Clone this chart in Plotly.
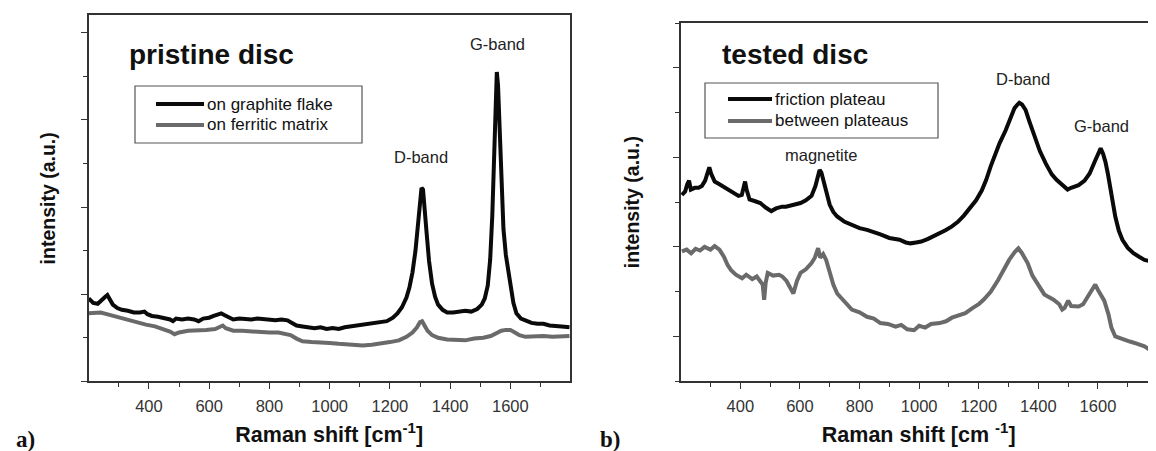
import plotly.graph_objects as go

# ---------------- data: panel a (pristine disc) ----------------
a_graphite_x = [200, 215, 230, 245, 255, 262, 270, 280, 295, 310, 330, 350, 370, 385, 395, 410, 430, 450, 470, 480,
                490, 510, 530, 550, 565, 580, 600, 615, 630, 640, 650, 665, 680, 700, 720, 740, 760, 780, 800, 820,
                840, 860, 875, 890, 910, 930, 950, 970, 990, 1010, 1030, 1050, 1070, 1090, 1110, 1130, 1150, 1170,
                1190, 1210, 1225, 1240, 1255, 1265, 1275, 1285, 1293, 1300, 1305, 1310, 1316, 1322, 1330, 1340, 1350,
                1360, 1375, 1390, 1410, 1430, 1450, 1470, 1490, 1505, 1515, 1525, 1533, 1540, 1546, 1551, 1555, 1559,
                1564, 1570, 1577, 1585, 1593, 1600, 1610, 1620, 1635, 1650, 1670, 1690, 1710, 1730, 1750, 1770, 1797]
a_graphite_y = [0.95, 0.90, 0.89, 0.93, 0.97, 0.99, 0.95, 0.88, 0.84, 0.82, 0.81, 0.79, 0.79, 0.80, 0.77, 0.75, 0.74,
                0.73, 0.71, 0.69, 0.72, 0.71, 0.72, 0.71, 0.69, 0.72, 0.73, 0.75, 0.77, 0.78, 0.76, 0.73, 0.71, 0.72,
                0.71, 0.71, 0.72, 0.71, 0.71, 0.70, 0.71, 0.70, 0.67, 0.64, 0.63, 0.62, 0.61, 0.62, 0.60, 0.61, 0.60,
                0.62, 0.63, 0.63, 0.64, 0.65, 0.66, 0.67, 0.69, 0.73, 0.78, 0.85, 0.96, 1.08, 1.25, 1.50, 1.80, 2.08,
                2.22, 2.20, 2.00, 1.70, 1.38, 1.12, 0.97, 0.88, 0.82, 0.79, 0.79, 0.80, 0.81, 0.80, 0.83, 0.88, 0.95,
                1.10, 1.40, 1.90, 2.60, 3.25, 3.55, 3.40, 2.85, 2.25, 1.75, 1.45, 1.28, 1.12, 0.90, 0.78, 0.72, 0.70,
                0.67, 0.66, 0.66, 0.64, 0.63, 0.63, 0.62]

a_ferritic_x = [200, 220, 240, 260, 280, 300, 330, 360, 390, 420, 450, 470, 485, 500, 530, 560, 590, 620, 635, 645,
                655, 680, 710, 740, 770, 800, 830, 850, 870, 890, 910, 940, 970, 1000, 1030, 1060, 1090, 1110, 1140,
                1170, 1200, 1230, 1255, 1275, 1290, 1300, 1307, 1315, 1325, 1340, 1360, 1390, 1420, 1450, 1480, 1510,
                1535, 1555, 1570, 1585, 1600, 1615, 1630, 1650, 1680, 1710, 1740, 1770, 1797]
a_ferritic_y = [0.78, 0.79, 0.79, 0.77, 0.75, 0.73, 0.71, 0.68, 0.65, 0.63, 0.60, 0.57, 0.54, 0.56, 0.58, 0.58, 0.59,
                0.60, 0.63, 0.64, 0.61, 0.58, 0.58, 0.57, 0.57, 0.56, 0.56, 0.55, 0.53, 0.49, 0.46, 0.45, 0.45, 0.44,
                0.43, 0.42, 0.41, 0.41, 0.42, 0.43, 0.45, 0.47, 0.51, 0.56, 0.62, 0.68, 0.69, 0.64, 0.58, 0.53, 0.50,
                0.48, 0.48, 0.47, 0.49, 0.50, 0.52, 0.56, 0.58, 0.59, 0.59, 0.56, 0.53, 0.51, 0.52, 0.52, 0.51, 0.52,
                0.52]

# ---------------- data: panel b (tested disc) ----------------
b_plateau_x = [204, 215, 222, 228, 234, 247, 260, 271, 282, 290, 296, 302, 314, 330, 345, 357, 375, 394, 405, 412,
               416, 421, 431, 450, 467, 485, 504, 520, 540, 553, 575, 602, 620, 639, 652, 660, 666, 672, 680, 688,
               700, 712, 725, 750, 774, 800, 825, 848, 870, 900, 934, 955, 971, 990, 1007, 1030, 1050, 1069, 1090,
               1110, 1130, 1150, 1170, 1191, 1210, 1225, 1240, 1255, 1270, 1290, 1305, 1320, 1330, 1336, 1345, 1357,
               1370, 1388, 1405, 1425, 1445, 1461, 1480, 1498, 1510, 1535, 1555, 1572, 1590, 1603, 1609, 1617, 1625,
               1633, 1645, 1658, 1670, 1682, 1700, 1719, 1738, 1756, 1775, 1795]
b_plateau_y = [1.58, 1.62, 1.70, 1.74, 1.64, 1.66, 1.66, 1.68, 1.74, 1.84, 1.89, 1.82, 1.73, 1.70, 1.67, 1.65, 1.62,
               1.57, 1.58, 1.68, 1.73, 1.64, 1.53, 1.51, 1.49, 1.44, 1.40, 1.43, 1.45, 1.45, 1.47, 1.49, 1.52, 1.57,
               1.68, 1.80, 1.86, 1.83, 1.73, 1.61, 1.47, 1.39, 1.34, 1.28, 1.245, 1.21, 1.19, 1.17, 1.14, 1.10, 1.08,
               1.05, 1.04, 1.05, 1.06, 1.09, 1.12, 1.15, 1.19, 1.23, 1.28, 1.35, 1.43, 1.52, 1.63, 1.75, 1.90, 2.04,
               2.16, 2.30, 2.43, 2.55, 2.59, 2.61, 2.59, 2.53, 2.40, 2.23, 2.07, 1.93, 1.81, 1.75, 1.69, 1.64, 1.66,
               1.69, 1.74, 1.82, 1.96, 2.07, 2.10, 2.04, 1.95, 1.82, 1.58, 1.34, 1.18, 1.08, 0.99, 0.93, 0.89, 0.855,
               0.84, 0.82]

b_between_x = [204, 220, 235, 250, 265, 280, 300, 314, 330, 345, 357, 369, 385, 406, 420, 440, 455, 468, 475, 480,
               485, 492, 510, 530, 541, 555, 570, 578, 590, 602, 620, 639, 650, 661, 668, 678, 688, 700, 712, 725,
               750, 774, 800, 825, 848, 870, 895, 921, 940, 960, 983, 1000, 1020, 1040, 1069, 1090, 1110, 1135, 1155,
               1180, 1200, 1216, 1240, 1265, 1285, 1302, 1320, 1333, 1345, 1364, 1380, 1401, 1420, 1435, 1451, 1470,
               1480, 1488, 1500, 1510, 1535, 1550, 1560, 1575, 1585, 1591, 1600, 1612, 1621, 1635, 1645, 1658, 1680,
               1707, 1730, 1756, 1775, 1795]
b_between_y = [0.95, 0.97, 0.93, 0.98, 0.96, 1.00, 0.97, 1.01, 0.97, 0.89, 0.80, 0.74, 0.69, 0.65, 0.69, 0.64, 0.67,
               0.62, 0.58, 0.41, 0.60, 0.71, 0.68, 0.69, 0.67, 0.62, 0.53, 0.48, 0.62, 0.71, 0.75, 0.82, 0.88, 0.985,
               0.88, 0.92, 0.855, 0.72, 0.58, 0.48, 0.38, 0.30, 0.27, 0.22, 0.20, 0.15, 0.14, 0.11, 0.13, 0.08, 0.07,
               0.12, 0.10, 0.14, 0.15, 0.17, 0.21, 0.24, 0.26, 0.32, 0.36, 0.41, 0.50, 0.63, 0.75, 0.855, 0.94, 0.985,
               0.93, 0.82, 0.68, 0.56, 0.47, 0.44, 0.41, 0.36, 0.30, 0.32, 0.40, 0.34, 0.335, 0.36, 0.41, 0.48, 0.55,
               0.58, 0.52, 0.44, 0.40, 0.25, 0.10, 0.00, -0.03, -0.056, -0.08, -0.11, -0.15, -0.20]

x_tick_vals = [400, 600, 800, 1000, 1200, 1400, 1600]
x_minor_vals = [300, 500, 700, 900, 1100, 1300, 1500, 1700]

a_legend_names = ["on graphite flake", "on ferritic matrix"]
b_legend_names = ["friction plateau", "between plateaus"]

FONT = "Liberation Sans, Arial, sans-serif"
SERIF = "Liberation Serif, Times New Roman, serif"
BLACK = "#0a0a0a"
GRAY = "#6a6a6a"
AXIS = "#333333"
LW = 4

fig = go.Figure()
fig.add_trace(go.Scatter(x=a_graphite_x, y=a_graphite_y, mode="lines", name=a_legend_names[0],
                         line=dict(color=BLACK, width=LW), xaxis="x", yaxis="y", showlegend=False))
fig.add_trace(go.Scatter(x=a_ferritic_x, y=a_ferritic_y, mode="lines", name=a_legend_names[1],
                         line=dict(color=GRAY, width=LW), xaxis="x", yaxis="y", showlegend=False))
fig.add_trace(go.Scatter(x=b_plateau_x, y=b_plateau_y, mode="lines", name=b_legend_names[0],
                         line=dict(color=BLACK, width=LW), xaxis="x2", yaxis="y2", showlegend=False))
fig.add_trace(go.Scatter(x=b_between_x, y=b_between_y, mode="lines", name=b_legend_names[1],
                         line=dict(color=GRAY, width=LW), xaxis="x2", yaxis="y2", showlegend=False))

W, H = 1156, 451


def px(x):
    return x / W


def py(y):
    return 1 - y / H


xcommon = dict(range=[200, 1797], tickmode="array", tickvals=x_tick_vals, ticks="outside", ticklen=6,
               tickwidth=1.3, tickcolor=AXIS, showline=True, linecolor=AXIS, linewidth=1.5, mirror=True,
               showgrid=False, zeroline=False, ticklabelstandoff=3,
               tickfont=dict(family=FONT, size=16.5, color="#333"),
               minor=dict(tickmode="array", tickvals=x_minor_vals, ticks="outside", ticklen=4, tickwidth=1.3,
                          tickcolor=AXIS, showgrid=False))

fig.update_layout(
    width=W, height=H, margin=dict(l=0, r=0, t=0, b=0),
    paper_bgcolor="white", plot_bgcolor="white",
    font=dict(family=FONT, color="#111"),
    showlegend=False,
    xaxis=dict(domain=[px(80.7), px(561.7)], anchor="y",
               title=dict(text="<b>Raman shift [cm<sup>-1</sup>]</b>", font=dict(size=21.5, family=FONT, color="#111"),
                          standoff=13),
               **xcommon),
    yaxis=dict(domain=[py(373.3), py(7.3)], anchor="x", range=[0, 4.2], tickmode="linear", tick0=0, dtick=1,
               showticklabels=False, ticks="outside", ticklen=6, tickwidth=1.3, tickcolor=AXIS,
               showline=True, linecolor=AXIS, linewidth=1.5, mirror=True, showgrid=False, zeroline=False,
               minor=dict(tickmode="linear", tick0=0.5, dtick=1, ticks="outside", ticklen=4, tickwidth=1.3,
                          tickcolor=AXIS, showgrid=False),
               title=dict(text="<b>intensity (a.u.)</b>", font=dict(size=19.5, family=FONT, color="#111"),
                          standoff=20)),
    xaxis2=dict(domain=[px(672.7), px(1148.7)], anchor="y2",
                title=dict(text="<b>Raman shift [cm <sup>-1</sup>]</b>",
                           font=dict(size=21.5, family=FONT, color="#111"), standoff=13),
                **xcommon),
    yaxis2=dict(domain=[py(373.3), py(15)], anchor="x2", range=[-0.5, 3.5], tickmode="linear", tick0=0, dtick=1,
                showticklabels=False, ticks="outside", ticklen=6, tickwidth=1.3, tickcolor=AXIS,
                showline=True, linecolor=AXIS, linewidth=1.5, mirror=True, showgrid=False, zeroline=False,
                minor=dict(tickmode="linear", tick0=0.5, dtick=1, ticks="outside", ticklen=4, tickwidth=1.3,
                           tickcolor=AXIS, showgrid=False),
                title=dict(text="<b>intensity (a.u.)</b>", font=dict(size=19.5, family=FONT, color="#111"),
                           standoff=28)),
)

shapes = []
ann = []


def add_legend(box, line_x0, line_x1, text_x, rows, names, colors):
    x0, x1, y0, y1 = box
    shapes.append(dict(type="rect", xref="paper", yref="paper", x0=px(x0), x1=px(x1), y0=py(y1), y1=py(y0),
                       line=dict(color="#555", width=1.2), fillcolor="white", layer="above"))
    for ry, nm, col in zip(rows, names, colors):
        shapes.append(dict(type="line", xref="paper", yref="paper", x0=px(line_x0), x1=px(line_x1),
                           y0=py(ry), y1=py(ry), line=dict(color=col, width=LW), layer="above"))
        ann.append(dict(x=px(text_x), y=py(ry), xref="paper", yref="paper", xanchor="left", yanchor="middle",
                        text=nm, showarrow=False, borderpad=0,
                        font=dict(size=17, family=FONT, color="#111")))


add_legend((127, 354, 78, 135), 148, 196, 198, [96, 117], a_legend_names, [BLACK, GRAY])
add_legend((697, 930, 75, 130), 720, 764, 766, [91, 113], b_legend_names, [BLACK, GRAY])

ann.append(dict(x=px(120), y=py(46), xref="paper", yref="paper", xanchor="left", yanchor="middle",
                text="<b>pristine disc</b>", showarrow=False, borderpad=0,
                font=dict(size=28, family=FONT, color="#111")))
ann.append(dict(x=px(713), y=py(46), xref="paper", yref="paper", xanchor="left", yanchor="middle",
                text="<b>tested disc</b>", showarrow=False, borderpad=0,
                font=dict(size=28, family=FONT, color="#111")))
ann.append(dict(x=1558, y=3.87, xref="x", yref="y", text="G-band", showarrow=False,
                font=dict(size=16.5, family=FONT, color="#222")))
ann.append(dict(x=1303, y=2.575, xref="x", yref="y", text="D-band", showarrow=False,
                font=dict(size=16.5, family=FONT, color="#222")))
ann.append(dict(x=1350, y=2.88, xref="x2", yref="y2", text="D-band", showarrow=False,
                font=dict(size=16.5, family=FONT, color="#222")))
ann.append(dict(x=1612, y=2.35, xref="x2", yref="y2", text="G-band", showarrow=False,
                font=dict(size=16.5, family=FONT, color="#222")))
ann.append(dict(x=670, y=2.03, xref="x2", yref="y2", text="magnetite", showarrow=False,
                font=dict(size=16.5, family=FONT, color="#222")))
ann.append(dict(x=px(7), y=py(431), xref="paper", yref="paper", xanchor="left", yanchor="middle",
                text="<b>a)</b>", showarrow=False, borderpad=0,
                font=dict(size=23, family=SERIF, color="#111")))
ann.append(dict(x=px(591), y=py(431), xref="paper", yref="paper", xanchor="left", yanchor="middle",
                text="<b>b)</b>", showarrow=False, borderpad=0,
                font=dict(size=23, family=SERIF, color="#111")))
fig.update_layout(annotations=ann, shapes=shapes)

fig.write_html("out.html")
